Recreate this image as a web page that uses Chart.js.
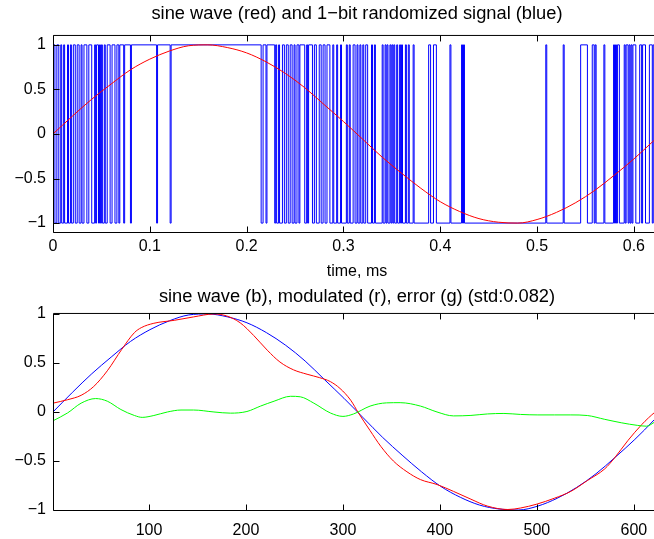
<!DOCTYPE html>
<html>
<head>
<meta charset="utf-8">
<script src="https://cdn.jsdelivr.net/npm/chart.js@4.4.0/dist/chart.umd.min.js"></script>
<style>
  html, body { margin: 0; padding: 0; background: #fff; overflow: hidden; width: 654px; height: 539px; }
  canvas { position: absolute; left: 0; }
  #top { top: 0; }
  #bottom { top: 285px; }
</style>
</head>
<body>
<canvas id="top" width="661" height="282"></canvas>
<canvas id="bottom" width="661" height="254"></canvas>
<script>
// tick labels
const timeTicks = [0, 0.1, 0.2, 0.3, 0.4, 0.5, 0.6];
const sampleTicks = [100, 200, 300, 400, 500, 600];
const levelTicks = [-1, -0.5, 0, 0.5, 1];

// sine wave, read every 0.02 ms (every 20 samples)
const sineTime = [0, 0.02, 0.04, 0.06, 0.08, 0.10, 0.12, 0.14, 0.16, 0.18, 0.20, 0.22, 0.24, 0.26, 0.28, 0.30,
  0.32, 0.34, 0.36, 0.38, 0.40, 0.42, 0.44, 0.46, 0.48, 0.50, 0.52, 0.54, 0.56, 0.58, 0.60, 0.62, 0.628];
const sineSample = [1, 21, 41, 61, 81, 101, 121, 141, 161, 181, 201, 221, 241, 261, 281, 301,
  321, 341, 361, 381, 401, 421, 441, 461, 481, 501, 521, 541, 561, 581, 601, 621, 628];
const sineValue = [0, 0.20, 0.39, 0.56, 0.72, 0.84, 0.93, 0.99, 1.00, 0.97, 0.91, 0.81, 0.68, 0.52, 0.33, 0.14,
  -0.06, -0.26, -0.44, -0.61, -0.76, -0.87, -0.95, -0.99, -1.00, -0.96, -0.88, -0.77, -0.63, -0.46, -0.28, -0.08, 0];

// 1-bit signal: stretches (ms) where it sits at -1, it is +1 elsewhere
const lowStart = [0.002, 0.006, 0.009, 0.012, 0.016, 0.019, 0.023, 0.027, 0.030, 0.035, 0.040, 0.044, 0.047, 0.049,
  0.051, 0.054, 0.059, 0.064, 0.068, 0.073, 0.080, 0.107, 0.121,
  0.215, 0.220, 0.229, 0.231, 0.234, 0.239, 0.243, 0.247, 0.250, 0.254, 0.260, 0.263, 0.268, 0.272, 0.277, 0.281,
  0.286, 0.290, 0.294, 0.298, 0.304, 0.307, 0.312, 0.315, 0.318, 0.321, 0.325, 0.330, 0.333, 0.341, 0.344, 0.346,
  0.349, 0.351, 0.353, 0.356, 0.359, 0.361, 0.365, 0.368,
  0.373, 0.390, 0.396, 0.411, 0.423, 0.425, 0.510, 0.528, 0.552, 0.559, 0.561, 0.570, 0.580, 0.582, 0.585, 0.591,
  0.594, 0.596, 0.598, 0.602, 0.608, 0.612, 0.619];
const lowEnd = [0.004, 0.008, 0.011, 0.015, 0.018, 0.021, 0.025, 0.029, 0.032, 0.037, 0.043, 0.045, 0.048, 0.050,
  0.053, 0.056, 0.061, 0.066, 0.069, 0.074, 0.081, 0.108, 0.122,
  0.217, 0.221, 0.230, 0.233, 0.237, 0.241, 0.245, 0.249, 0.252, 0.255, 0.262, 0.264, 0.270, 0.275, 0.279, 0.283,
  0.289, 0.293, 0.297, 0.303, 0.306, 0.310, 0.314, 0.317, 0.320, 0.323, 0.329, 0.332, 0.340, 0.343, 0.345, 0.348,
  0.350, 0.352, 0.355, 0.358, 0.360, 0.364, 0.367, 0.372,
  0.388, 0.393, 0.410, 0.422, 0.424, 0.509, 0.527, 0.545, 0.557, 0.560, 0.569, 0.579, 0.581, 0.583, 0.590, 0.592,
  0.595, 0.597, 0.599, 0.606, 0.609, 0.616, 0.620];

// modulated signal (red)
const modSample = [1, 16, 30, 43, 57, 72, 85, 92, 105, 126, 146, 167, 180, 194, 208, 222, 235, 249, 263, 276, 287,
  297, 308, 316, 328, 339, 352, 366, 380, 397, 414, 432, 449, 470, 483, 500, 518, 535, 552, 570, 580, 594, 608, 622, 628];
const modValue = [0.09, 0.125, 0.17, 0.26, 0.42, 0.64, 0.81, 0.86, 0.905, 0.935, 0.97, 1.0, 0.98, 0.91, 0.78, 0.63,
  0.51, 0.43, 0.385, 0.35, 0.31, 0.24, 0.12, -0.01, -0.19, -0.35, -0.50, -0.61, -0.69, -0.74, -0.81, -0.89, -0.96,
  -0.995, -0.98, -0.94, -0.88, -0.81, -0.70, -0.58, -0.47, -0.29, -0.13, 0.0, 0.04];

// error (green)
const errSample = [1, 16, 30, 45, 57, 71, 85, 93, 105, 119, 133, 146, 167, 184, 201, 215, 229, 246, 256, 270, 287,
  300, 311, 328, 345, 359, 380, 397, 414, 432, 449, 466, 483, 501, 518, 535, 552, 570, 587, 604, 613, 622, 628];
const errValue = [-0.09, -0.01, 0.09, 0.137, 0.11, 0.025, -0.036, -0.055, -0.036, 0.0, 0.02, 0.02, 0.0, -0.012, 0.005,
  0.06, 0.11, 0.16, 0.155, 0.09, -0.01, -0.045, -0.02, 0.06, 0.093, 0.095, 0.06, 0.0, -0.04, -0.035, -0.02, -0.015,
  -0.025, -0.03, -0.03, -0.03, -0.036, -0.075, -0.11, -0.137, -0.145, -0.10, -0.07];

Chart.defaults.font.family = '"Liberation Sans", Arial, Helvetica, sans-serif';
Chart.defaults.color = '#000';

const fmt = v => String(v).replace('-', '\u2212');
const pts = (xs, ys) => xs.map((x, i) => ({ x: x, y: ys[i] }));

const bitPoints = [{ x: 0, y: 1 }];
lowStart.forEach((a, i) => {
  bitPoints.push({ x: a, y: -1 }, { x: lowEnd[i], y: 1 });
});
bitPoints.push({ x: 0.628, y: 1 });

// box round the axes and inward ticks, like matlab
const matlabAxes = {
  id: 'matlabAxes',
  afterDatasetsDraw(chart, args, opts) {
    const { ctx, chartArea: a, scales: { x, y } } = chart;
    const L = a.left + 0.5, R = a.right - 0.5, T = a.top - 0.5, B = a.bottom + 0.5;
    ctx.save();
    ctx.strokeStyle = '#000';
    ctx.lineWidth = 1;
    ctx.beginPath();
    ctx.moveTo(L, T); ctx.lineTo(R, T); ctx.lineTo(R, B); ctx.lineTo(L, B); ctx.closePath();
    opts.xTicks.forEach(v => {
      const px = Math.round(x.getPixelForValue(v)) + 0.5;
      ctx.moveTo(px, B); ctx.lineTo(px, B - 6);
      ctx.moveTo(px, T); ctx.lineTo(px, T + 6);
    });
    levelTicks.forEach(v => {
      const py = Math.round(y.getPixelForValue(v)) + 0.5;
      ctx.moveTo(L, py); ctx.lineTo(L + 6, py);
      ctx.moveTo(R, py); ctx.lineTo(R - 6, py);
    });
    ctx.stroke();
    ctx.restore();
  }
};

const yScale = (min, max) => ({
  type: 'linear', min: min, max: max,
  grid: { display: false, drawTicks: false }, border: { display: false },
  afterFit: s => { s.width = 53; },
  afterBuildTicks: s => { s.ticks = levelTicks.map(v => ({ value: v })); },
  ticks: { font: { size: 16 }, padding: 7, callback: v => fmt(v) }
});

new Chart(document.getElementById('top'), {
  type: 'line',
  data: {
    datasets: [
      { data: pts(sineTime, sineValue), borderColor: '#ff0000', borderWidth: 1, pointRadius: 0, cubicInterpolationMode: 'monotone' },
      { data: bitPoints, borderColor: '#0000ff', borderWidth: 1, pointRadius: 0, stepped: true }
    ]
  },
  options: {
    responsive: false, animation: false, events: [],
    plugins: {
      legend: { display: false }, tooltip: { enabled: false },
      title: { display: true, fullSize: false, text: 'sine wave (red) and 1\u2212bit randomized signal (blue)',
        font: { size: 18.3, weight: 'normal' }, padding: { top: 2.9, bottom: 11.1 } },
      matlabAxes: { xTicks: timeTicks }
    },
    scales: {
      x: {
        type: 'linear', min: 0, max: 0.628,
        grid: { display: false, drawTicks: false }, border: { display: false },
        afterFit: s => { s.height = 50; },
        afterBuildTicks: s => { s.ticks = timeTicks.map(v => ({ value: v })); },
        ticks: { font: { size: 16 }, padding: 5, maxRotation: 0, autoSkip: false, callback: v => fmt(v) },
        title: { display: true, text: 'time, ms', font: { size: 16 }, padding: { top: 0, bottom: 1 } }
      },
      y: yScale(-1.1, 1.1)
    }
  },
  plugins: [matlabAxes]
});

new Chart(document.getElementById('bottom'), {
  type: 'line',
  data: {
    datasets: [
      { data: pts(errSample, errValue), borderColor: '#00ff00', borderWidth: 1, pointRadius: 0, cubicInterpolationMode: 'monotone' },
      { data: pts(modSample, modValue), borderColor: '#ff0000', borderWidth: 1, pointRadius: 0, cubicInterpolationMode: 'monotone' },
      { data: pts(sineSample, sineValue), borderColor: '#0000ff', borderWidth: 1, pointRadius: 0, cubicInterpolationMode: 'monotone' }
    ]
  },
  options: {
    responsive: false, animation: false, events: [],
    plugins: {
      legend: { display: false }, tooltip: { enabled: false },
      title: { display: true, fullSize: false, text: 'sine wave (b), modulated (r), error (g) (std:0.082)',
        font: { size: 18.3, weight: 'normal' }, padding: { top: 0.9, bottom: 6.1 } },
      matlabAxes: { xTicks: sampleTicks }
    },
    scales: {
      x: {
        type: 'linear', min: 1, max: 628,
        grid: { display: false, drawTicks: false }, border: { display: false },
        afterFit: s => { s.height = 29; },
        afterBuildTicks: s => { s.ticks = sampleTicks.map(v => ({ value: v })); },
        ticks: { font: { size: 16 }, padding: 11, maxRotation: 0, autoSkip: false, callback: v => fmt(v) }
      },
      y: yScale(-1, 1)
    }
  },
  plugins: [matlabAxes]
});
</script>
</body>
</html>
